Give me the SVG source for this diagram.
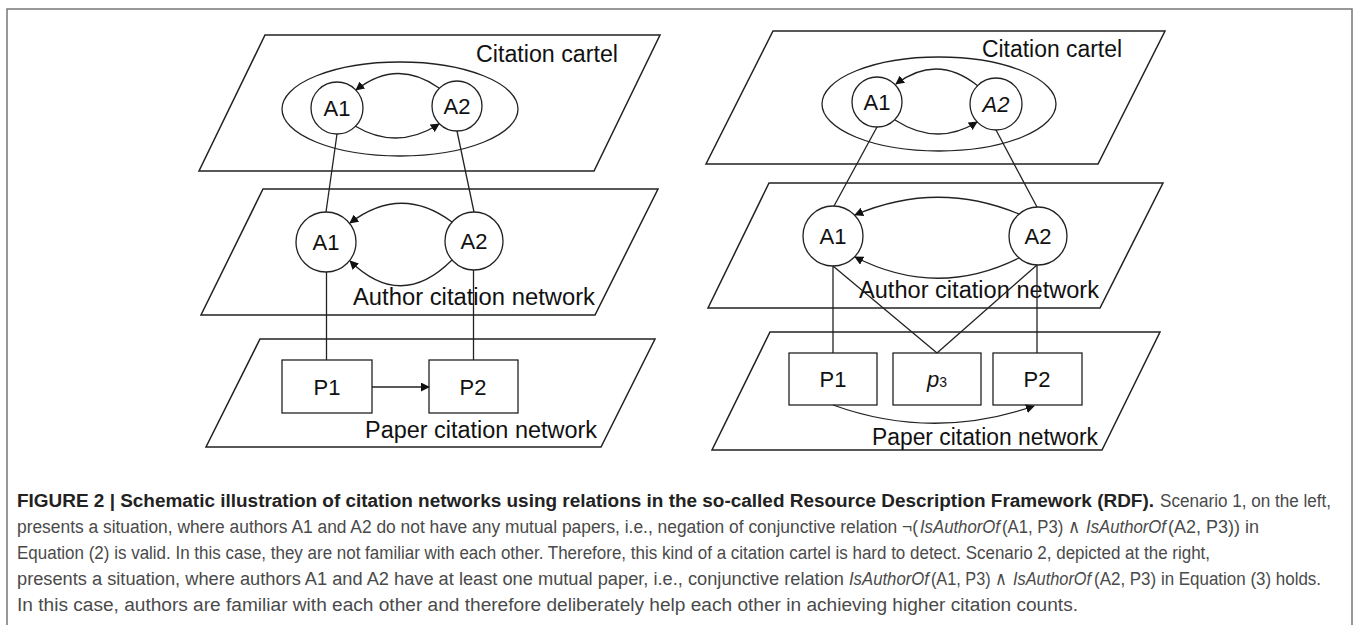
<svg xmlns="http://www.w3.org/2000/svg" width="1358" height="625" viewBox="0 0 1358 625">
<defs>
<marker id="ah" viewBox="0 0 10 10" refX="9" refY="5" markerWidth="9" markerHeight="9" markerUnits="userSpaceOnUse" orient="auto">
<path d="M0,0 L10,5 L0,10 z" fill="#111"/>
</marker>
<style>
.layer{fill:none;stroke:#222;stroke-width:1.5}
.nd{fill:none;stroke:#222;stroke-width:1.3}
.ln{fill:none;stroke:#222;stroke-width:1.3}
.arr{fill:none;stroke:#222;stroke-width:1.3;marker-end:url(#ah)}
.lt{font-family:"Liberation Sans",Arial,sans-serif;font-size:23px;fill:#111}
.nt{font-family:"Liberation Sans",Arial,sans-serif;font-size:22px;fill:#111;text-anchor:middle}
.cap{font-family:"Liberation Sans",Arial,sans-serif;font-size:19px;fill:#4a4a4a}
.capb{font-weight:bold;fill:#222}
.it{font-style:italic}
</style>
</defs>
<rect width="1358" height="625" fill="#fff"/>
<path d="M7,630 L7,9 L1352,9 L1352,630" fill="none" stroke="#777" stroke-width="1.5"/>

<!-- LEFT SCENARIO -->
<g id="left-cartel-layer">
<polygon class="layer" points="265,35 660,35 594,171 199,171"/>
<text class="lt" x="476" y="62" textLength="142" lengthAdjust="spacingAndGlyphs">Citation cartel</text>
<ellipse class="nd" cx="400" cy="109" rx="118" ry="47"/>
</g>
<g id="left-author-layer">
<polygon class="layer" points="263,189 658,189 595,315 201,315"/>
<text class="lt" x="353" y="305" textLength="242" lengthAdjust="spacingAndGlyphs">Author citation network</text>
</g>
<g id="left-paper-layer">
<polygon class="layer" points="260,339 655,339 601,447 206,447"/>
<text class="lt" x="365" y="438" textLength="232" lengthAdjust="spacingAndGlyphs">Paper citation network</text>
</g>

<g id="left-connectors">
<path class="arr" d="M439,88 Q397,58 356,90"/>
<path class="arr" d="M355,126 Q397,151 439,124"/>
<path class="arr" d="M452,222 Q401,184 350,223"/>
<path class="arr" d="M452,260 Q401,311 350,261"/>
<line class="ln" x1="337" y1="134" x2="326" y2="212"/>
<line class="ln" x1="457" y1="131" x2="474" y2="212"/>
<line class="ln" x1="326.5" y1="272" x2="326.5" y2="360"/>
<line class="ln" x1="473.5" y1="270" x2="473.5" y2="360"/>
<line class="arr" x1="372" y1="387" x2="429" y2="387"/>
</g>

<g id="l-cartel-A1"><circle class="nd" cx="337" cy="108" r="26"/><text class="nt" x="337" y="116">A1</text></g>
<g id="l-cartel-A2"><circle class="nd" cx="457" cy="106" r="25"/><text class="nt" x="457" y="114">A2</text></g>
<g id="l-author-A1"><circle class="nd" cx="326" cy="242" r="30"/><text class="nt" x="326" y="250">A1</text></g>
<g id="l-author-A2"><circle class="nd" cx="474" cy="241" r="29"/><text class="nt" x="474" y="249">A2</text></g>
<g id="l-paper-P1"><rect class="nd" x="282" y="360" width="90" height="53"/><text class="nt" x="327" y="395">P1</text></g>
<g id="l-paper-P2"><rect class="nd" x="429" y="360" width="89" height="53"/><text class="nt" x="473" y="395">P2</text></g>

<!-- RIGHT SCENARIO -->
<g id="right-cartel-layer">
<polygon class="layer" points="773,31 1165,31 1098,164 706,164"/>
<text class="lt" x="982" y="57" textLength="140" lengthAdjust="spacingAndGlyphs">Citation cartel</text>
<ellipse class="nd" cx="939" cy="104" rx="117" ry="47"/>
</g>
<g id="right-author-layer">
<polygon class="layer" points="769,183 1163,183 1100,308 708,308"/>
<text class="lt" x="859" y="298" textLength="240" lengthAdjust="spacingAndGlyphs">Author citation network</text>
</g>
<g id="right-paper-layer">
<polygon class="layer" points="770,332 1160,332 1102,450 712,450"/>
<text class="lt" x="872" y="445" textLength="226" lengthAdjust="spacingAndGlyphs">Paper citation network</text>
</g>

<g id="right-connectors">
<path class="arr" d="M978,86 Q937,53 896,84"/>
<path class="arr" d="M895,120 Q937,147 977,122"/>
<path class="arr" d="M1019,214 Q937,180 855,215"/>
<path class="arr" d="M1019,258 Q937,299 855,257"/>
<line class="ln" x1="877" y1="127" x2="834" y2="206"/>
<line class="ln" x1="996" y1="130" x2="1037" y2="207"/>
<line class="ln" x1="833" y1="266" x2="833" y2="353"/>
<line class="ln" x1="833" y1="266" x2="937" y2="353"/>
<line class="ln" x1="1037" y1="265" x2="1037" y2="353"/>
<line class="ln" x1="1037" y1="265" x2="937" y2="353"/>
<path class="arr" d="M833,405 Q933,441 1034,406"/>
</g>

<g id="r-cartel-A1"><circle class="nd" cx="877" cy="102" r="25"/><text class="nt" x="877" y="110">A1</text></g>
<g id="r-cartel-A2"><circle class="nd" cx="996" cy="104" r="26"/><text class="nt" x="996" y="112" font-style="italic">A2</text></g>
<g id="r-author-A1"><circle class="nd" cx="833" cy="236" r="30"/><text class="nt" x="833" y="244">A1</text></g>
<g id="r-author-A2"><circle class="nd" cx="1038" cy="236" r="29"/><text class="nt" x="1038" y="244">A2</text></g>
<g id="r-paper-P1"><rect class="nd" x="789" y="353" width="88" height="52"/><text class="nt" x="833" y="387">P1</text></g>
<g id="r-paper-p3"><rect class="nd" x="893" y="353" width="88" height="52"/><text class="nt" x="937" y="387"><tspan font-style="italic">p</tspan><tspan font-size="14px">3</tspan></text></g>
<g id="r-paper-P2"><rect class="nd" x="993" y="353" width="89" height="52"/><text class="nt" x="1037" y="387">P2</text></g>

<!-- CAPTION (horizontally condensed) -->
<g id="caption" transform="scale(0.9,1)">
<text class="cap capb" x="18.89" y="507" textLength="1263.3" lengthAdjust="spacingAndGlyphs">FIGURE 2 | Schematic illustration of citation networks using relations in the so-called Resource Description Framework (RDF).</text>
<text class="cap" x="1288.9" y="507" textLength="190" lengthAdjust="spacingAndGlyphs">Scenario 1, on the left,</text>

<text class="cap" x="18.89" y="533" textLength="1001.1" lengthAdjust="spacingAndGlyphs">presents a situation, where authors A1 and A2 do not have any mutual papers, i.e., negation of conjunctive relation ¬(</text>
<text class="cap it" x="1022.2" y="533" textLength="88.9" lengthAdjust="spacingAndGlyphs">IsAuthorOf</text>
<text class="cap" x="1113.3" y="533" textLength="86.7" lengthAdjust="spacingAndGlyphs">(A1, P3) ∧</text>
<text class="cap it" x="1206.7" y="533" textLength="88.9" lengthAdjust="spacingAndGlyphs">IsAuthorOf</text>
<text class="cap" x="1297.8" y="533" textLength="101.1" lengthAdjust="spacingAndGlyphs">(A2, P3)) in</text>

<text class="cap" x="18.89" y="559" textLength="1325.6" lengthAdjust="spacingAndGlyphs">Equation (2) is valid. In this case, they are not familiar with each other. Therefore, this kind of a citation cartel is hard to detect. Scenario 2, depicted at the right,</text>

<text class="cap" x="18.89" y="585" textLength="918.9" lengthAdjust="spacingAndGlyphs">presents a situation, where authors A1 and A2 have at least one mutual paper, i.e., conjunctive relation</text>
<text class="cap it" x="943.3" y="585" textLength="88.9" lengthAdjust="spacingAndGlyphs">IsAuthorOf</text>
<text class="cap" x="1034.4" y="585" textLength="84.4" lengthAdjust="spacingAndGlyphs">(A1, P3) ∧</text>
<text class="cap it" x="1125.6" y="585" textLength="86.7" lengthAdjust="spacingAndGlyphs">IsAuthorOf</text>
<text class="cap" x="1215.6" y="585" textLength="252.2" lengthAdjust="spacingAndGlyphs">(A2, P3) in Equation (3) holds.</text>

<text class="cap" x="18.89" y="611" textLength="1178.9" lengthAdjust="spacingAndGlyphs">In this case, authors are familiar with each other and therefore deliberately help each other in achieving higher citation counts.</text>
</g>
</svg>
